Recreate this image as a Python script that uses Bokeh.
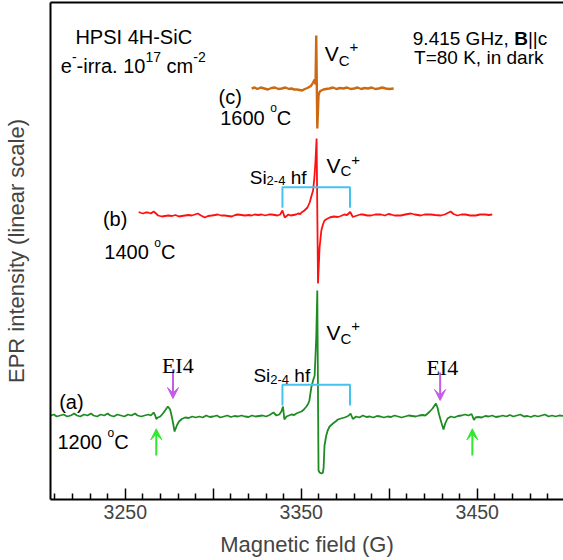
from bokeh.plotting import figure
from bokeh.models import Range1d, LinearAxis, FixedTicker, Arrow, VeeHead, Label
from bokeh.embed import file_html
from bokeh.resources import INLINE

# ---------------- data ----------------
# Spectrum (a) 1200 C : field (G), intensity (arb., relative to its baseline)
A_FIELD = [3207.6, 3209.5, 3211.0, 3213.0, 3215.0, 3217.0, 3219.0, 3221.0, 3222.5, 3224.5,
           3226.5, 3228.5, 3230.5, 3232.0, 3234.0, 3236.0, 3238.0, 3240.0, 3241.5, 3243.5,
           3245.5, 3247.5, 3249.5, 3251.5, 3253.5, 3255.5, 3257.0, 3259.0, 3261.0, 3263.0,
           3264.5, 3266.1, 3267.0, 3267.6, 3268.5, 3269.9, 3271.8, 3273.0, 3274.2, 3275.5,
           3276.4, 3277.1, 3278.0, 3279.3, 3280.5, 3282.1, 3284.0, 3286.0, 3288.0, 3290.0,
           3292.0, 3294.0, 3296.0, 3298.0, 3300.0, 3302.0, 3304.0, 3306.0, 3308.0, 3310.0,
           3312.0, 3314.0, 3316.0, 3318.0, 3320.0, 3322.0, 3324.0, 3326.0, 3328.0, 3330.0,
           3332.0, 3334.2, 3335.9, 3337.5, 3338.7, 3339.6, 3340.4, 3341.6, 3343.0, 3344.4,
           3346.0, 3347.2, 3348.5, 3350.1, 3351.5, 3352.9, 3354.0, 3354.6, 3355.7, 3356.7,
           3357.6, 3358.5, 3359.1, 3359.8, 3360.4, 3361.5, 3362.3, 3362.7, 3363.2, 3364.2,
           3365.0, 3366.1, 3368.0, 3369.5, 3370.8, 3372.5, 3374.6, 3376.0, 3377.0, 3378.0,
           3379.3, 3381.2, 3383.0, 3385.0, 3387.0, 3389.0, 3391.0, 3393.0, 3395.0, 3397.0,
           3399.0, 3401.0, 3403.0, 3405.0, 3407.0, 3409.0, 3411.0, 3413.0, 3415.0, 3417.0,
           3419.0, 3420.5, 3421.8, 3423.0, 3424.6, 3426.5, 3427.4, 3428.3, 3429.6, 3430.8,
           3431.8, 3433.1, 3435.0, 3437.0, 3439.0, 3441.0, 3443.0, 3445.0, 3446.8, 3448.1,
           3449.0, 3450.5, 3452.5, 3454.5, 3456.5, 3458.5, 3460.5, 3462.5, 3464.5, 3466.5,
           3468.5, 3470.5, 3472.5, 3474.5, 3476.5, 3478.5, 3480.5, 3482.5, 3484.5, 3486.5,
           3488.5, 3490.5, 3492.5, 3494.5, 3496.5, 3498.9]
A_INT = [0, 1, -1, 0, 1, -1, 0, 2, 0, -1,
         1, 0, 2, 0, -1, 1, 0, 2, 0, -1,
         1, 0, -1, 1, 0, 2, 0, -1, 0, 1,
         0, 3, 0, -3.5, -2, -1, 3, 6, 9, 6,
         -1, -7, -16, -10, -6, -3.5, -2, -2.5, -1, -2,
         -1, -2, 0, -1.5, -1, 0, -2, -1, 0, -1.5,
         -0.5, -1, 0, -1, -1.5, 0, -1, -0.5, 0, -1,
         0.5, 3, 0, 1, 4, 9, -4, -1, 0, 1,
         0.5, 2, 3, 4, 6, 9, 12, 15, 28, 35,
         40, 78, 125, -55, -57, -58, -57, -52, -30, -20,
         -15, -11, -8, -6, -4, -3, -2, -1, 0, 2,
         -3.5, -1, -2, 0, -1.5, -1, -2, -0.5, -1, -2,
         -1, -1.5, 0, -1, -2, -1, 0, -0.5, -1, 0,
         0.5, 0, 2, 4, 7, 12, 8, 1, -7, -14,
         -8, -3, -1, -2, -0.5, 0, 1, 0, 1.5, -4.5,
         -2, -1.5, -2, -0.5, -1, 0, -1.5, -1, 0, -1,
         0.5, -1, 0, 1, -1, -0.5, -1.5, 0, -1, 0,
         1, -1, 0, -1, 0, -0.5]

# Spectrum (b) 1400 C
B_FIELD = [3257.6, 3259.0, 3260.1, 3261.5, 3262.9, 3264.5, 3266.1, 3267.5, 3268.6, 3270.8,
           3272.5, 3274.5, 3276.5, 3278.5, 3280.5, 3282.1, 3284.0, 3286.0, 3287.8, 3289.5,
           3291.2, 3293.0, 3295.2, 3297.0, 3299.1, 3301.0, 3302.5, 3304.5, 3306.5, 3308.5,
           3310.5, 3312.5, 3314.0, 3316.1, 3318.0, 3320.0, 3321.8, 3323.5, 3325.5, 3327.5,
           3329.5, 3331.5, 3333.1, 3335.0, 3336.5, 3338.0, 3339.3, 3340.6, 3342.0, 3342.7,
           3344.0, 3345.5, 3347.0, 3348.2, 3349.5, 3350.1, 3351.8, 3353.5, 3354.8, 3355.7,
           3356.7, 3357.4, 3358.0, 3358.7, 3359.5, 3360.4, 3361.4, 3362.3, 3363.2, 3364.5,
           3366.1, 3368.5, 3370.8, 3372.5, 3374.4, 3376.0, 3377.8, 3379.3, 3381.7, 3383.5,
           3385.1, 3387.5, 3389.7, 3392.0, 3395.3, 3397.5, 3399.5, 3401.0, 3403.0, 3406.6,
           3409.0, 3412.3, 3414.5, 3417.9, 3420.0, 3423.6, 3426.0, 3429.3, 3431.5, 3434.9,
           3436.5, 3438.7, 3441.0, 3443.4, 3446.0, 3449.1, 3451.5, 3454.7, 3456.5, 3458.5]
B_INT = [2.5, 1.5, 1, 2, 2, 1, 3, 1, -1, -2,
         -1.5, -1, -1.5, -0.5, -2, -1.5, -1, -0.5, -1, 0,
         1, -1, -3, -1.5, -1, -0.5, 0, -1, -1, -1.5,
         -2, -0.5, 0, -0.5, -1, -0.5, -1, 0, -0.5, 0,
         -1, 0, 0, -0.5, -1, 0, 4, -3, -1, 0,
         -1, -0.5, 0, 1, 0.5, 2, 4, 7, 12, 18,
         24, 36, 51, 76, -69, -33, -16, -10, -6, -4.5,
         -3, -2, -2.5, -1.5, 0, -0.5, 2.5, -2.5, -1, 0,
         0, -1, -1, 0, 0, -1, 0.5, 0, -1, -1,
         0, 1, 0, -1, 0, 0, -0.5, -1, 0, 3,
         0.5, -1, 0, 0, -1, -1, 0, 0, -0.5, 0]

# Spectrum (c) 1600 C
C_FIELD = [3321.8, 3323.5, 3325.0, 3327.0, 3329.0, 3331.0, 3333.0, 3335.0, 3337.0, 3339.0,
           3341.0, 3343.0, 3344.4, 3346.0, 3347.5, 3349.0, 3350.5, 3352.0, 3353.5, 3355.0,
           3355.7, 3356.7, 3357.6, 3358.1, 3358.5, 3359.1, 3359.8, 3360.5, 3361.4, 3362.6,
           3364.0, 3366.0, 3368.0, 3370.0, 3372.0, 3374.0, 3376.0, 3378.0, 3380.0, 3382.0,
           3384.0, 3386.0, 3388.0, 3390.0, 3392.0, 3394.0, 3396.0, 3398.0, 3400.0, 3402.5]
C_INT = [0, 1, -0.5, 1, 0, -1, 0.5, 1, -0.5, 0,
         1, -0.5, 0, -1, -1, -1.5, -2, -0.5, 0.5, 2,
         3, 6, 9, 4, 53, -40, -7, -3, -2, -1,
         -0.5, 0, 1, -0.5, 0.5, 0, 1, -0.5, 0, 1,
         -0.5, 0.5, 0, 1, -0.5, 0, 1, 0, -0.5, 0]

EI4_FIELDS = [3277.1, 3428.9]          # violet arrows
GREEN_FIELDS = [3267.6, 3447.2]        # green arrows
HF_FIELDS = [3339.3, 3377.7]           # Si(2-4) hyperfine bracket ends
TICKS_MAJOR = [3250, 3300, 3350, 3400, 3450, 3500]
TICKS_LABELED = [3250, 3350, 3450]
TICKS_MINOR = [t for t in range(3210, 3500, 10) if t not in TICKS_MAJOR]

# ---------------- layout constants ----------------
W, H = 563, 560
FRAME_L, FRAME_T, FRAME_B = 48, 2, 499
X0, X1 = 3207.5, 3499.0
PPG = (W - FRAME_L) / (X1 - X0)       # pixels per gauss
BASE_A, BASE_B, BASE_C = 84, 285, 411  # vertical offsets of the three spectra

SANS = "Liberation Sans"
SERIF = "Liberation Serif"
SP = "\u00a0"

p = figure(width=W, height=H, x_range=Range1d(X0, X1), y_range=Range1d(0, FRAME_B - FRAME_T),
           output_backend="svg", toolbar_location=None, x_axis_type=None, y_axis_type=None,
           min_border_left=FRAME_L, min_border_right=0, min_border_top=FRAME_T,
           min_border_bottom=H - FRAME_B)
p.outline_line_color = None
p.background_fill_color = "white"
p.border_fill_color = "white"

xaxis = LinearAxis(ticker=FixedTicker(ticks=TICKS_MAJOR, minor_ticks=TICKS_MINOR),
                   axis_label="Magnetic field (G)",
                   major_label_overrides={t: ("" if t not in TICKS_LABELED else str(t)) for t in TICKS_MAJOR})
xaxis.major_tick_in = 11
xaxis.major_tick_out = 0
xaxis.minor_tick_in = 6
xaxis.minor_tick_out = 0
xaxis.axis_line_width = 2
xaxis.major_tick_line_width = 1.5
xaxis.minor_tick_line_width = 1.5
xaxis.major_label_text_font = SANS
xaxis.major_label_text_font_size = "19.5px"
xaxis.major_label_standoff = 5
xaxis.axis_label_text_font = SANS
xaxis.axis_label_text_font_size = "22px"
xaxis.axis_label_text_font_style = "normal"
xaxis.axis_label_standoff = 10
p.add_layout(xaxis, "below")

yaxis = LinearAxis(ticker=FixedTicker(ticks=[]), axis_label="EPR intensity (linear scale)")
yaxis.major_tick_out = 0
yaxis.major_tick_in = 0
yaxis.minor_tick_out = 0
yaxis.axis_line_width = 2
yaxis.axis_label_text_font = SANS
yaxis.axis_label_text_font_size = "22px"
yaxis.axis_label_text_font_style = "normal"
yaxis.axis_label_standoff = 22
p.add_layout(yaxis, "left")

top = LinearAxis(ticker=FixedTicker(ticks=[]))
top.major_tick_out = 0
top.major_tick_in = 0
top.minor_tick_out = 0
top.axis_line_width = 2
top.major_label_text_font_size = "0px"
p.add_layout(top, "above")

# ---------------- spectra ----------------
p.line(A_FIELD, [v + BASE_A for v in A_INT], line_color="#1e8c22", line_width=1.8)
p.line(B_FIELD, [v + BASE_B for v in B_INT], line_color="#ff1010", line_width=1.8)
p.line(C_FIELD, [v + BASE_C for v in C_INT], line_color="#cc6a14", line_width=2.4)

# hyperfine brackets
for base, lo, hi in ((BASE_A, 10, 30.7), (BASE_B, 6.7, 27.3)):
    p.line([HF_FIELDS[0], HF_FIELDS[0], HF_FIELDS[1], HF_FIELDS[1]],
           [base + lo, base + hi, base + hi, base + lo], line_color="#45c3f0", line_width=2)

# arrows
for f, tail, tip in ((EI4_FIELDS[0], 130, 101), (EI4_FIELDS[1], 127, 99)):
    p.add_layout(Arrow(x_start=f, y_start=tail, x_end=f, y_end=tip, line_color="#c45ee6", line_width=2,
                       end=VeeHead(size=11, fill_color="#c45ee6", line_color="#c45ee6")))
for f in GREEN_FIELDS:
    p.add_layout(Arrow(x_start=f, y_start=44, x_end=f, y_end=70.7, line_color="#30e830", line_width=2,
                       end=VeeHead(size=11, fill_color="#30e830", line_color="#30e830")))

# ---------------- text ----------------
AW = {' ': .278, SP: .278, '(': .333, ')': .333, '+': .584, ',': .278, '-': .333, '.': .278,
      '=': .584, 'B': .722, 'C': .722, 'E': .667, 'G': .778, 'H': .722, 'I': .278, 'K': .667,
      'P': .667, 'S': .667, 'T': .611, 'V': .667, 'a': .556, 'b': .556, 'c': .5, 'd': .556,
      'e': .556, 'f': .278, 'h': .556, 'i': .222, 'k': .5, 'm': .833, 'n': .556, 'o': .556,
      'r': .333, 'z': .5, '|': .26}


def tw(s, size):
    return sum(AW.get(ch, .556) for ch in s) * size


def fx(px):
    return X0 + (px - FRAME_L) / PPG


def fy(py):
    return FRAME_B - py


def runs(px, base_py, parts, font=SANS):
    off = 0.0
    for text, size, dy, style in parts:
        p.add_layout(Label(x=fx(px), y=fy(base_py + dy), x_offset=off, text=text,
                           text_font=font, text_font_size=f"{size}px", text_font_style=style,
                           text_color="black", text_baseline="alphabetic", text_align="left"))
        off += tw(text, size)


N = "normal"
runs(73, 36, [("HPSI 4H-SiC", 20, 0, N)])
runs(58.3, 65.5, [("e", 20, 0, N), ("-", 14, -9, N), ("-irra. 10", 20, 0, N), ("17", 14, -9, N),
                  (SP + "cm", 20, 0, N), ("-2", 14, -9, N)])
runs(411.7, 38.3, [("9.415 GHz," + SP, 19, 0, N), ("B", 19, 0, "bold"), ("||c", 19, 0, N)])
runs(413, 56.7, [("T=80 K, in dark", 19, 0, N)])

# (c)
runs(216.7, 96, [("(c)", 20, 0, N)])
runs(218.3, 117, [("1600" + SP, 20, 0, N), ("o", 12, -9.5, N), ("C", 20, 0, N)])
runs(323.3, 53.3, [("V", 21, 0, N), ("C", 15, 6.7, N), ("+", 15, -7.3, N)])

# (b)
runs(100.6, 218, [("(b)", 20, 0, N)])
runs(102, 251.7, [("1400" + SP, 20, 0, N), ("o", 12, -9.5, N), ("C", 20, 0, N)])
runs(248, 176.7, [("Si", 19, 0, N), ("2-4", 13, 3.5, N), (SP + "hf", 19, 0, N)])
runs(325, 165, [("V", 21, 0, N), ("C", 15, 5, N), ("+", 15, -6, N)])

# (a)
runs(56.7, 401.5, [("(a)", 20, 0, N)])
runs(55, 441.7, [("1200" + SP, 20, 0, N), ("o", 12, -9.5, N), ("C", 20, 0, N)])
runs(251.7, 375, [("Si", 19, 0, N), ("2-4", 13, 3.5, N), (SP + "hf", 19, 0, N)])
runs(325, 331.7, [("V", 21, 0, N), ("C", 15, 6.6, N), ("+", 15, -6.7, N)])
for cx, base in ((175.8, 365), (441.3, 366.5)):
    p.add_layout(Label(x=fx(cx), y=fy(base), text="EI4", text_font=SERIF, text_font_size="22px",
                       text_align="center", text_baseline="alphabetic", text_color="black"))

open("out.html", "w").write(file_html(p, INLINE))
